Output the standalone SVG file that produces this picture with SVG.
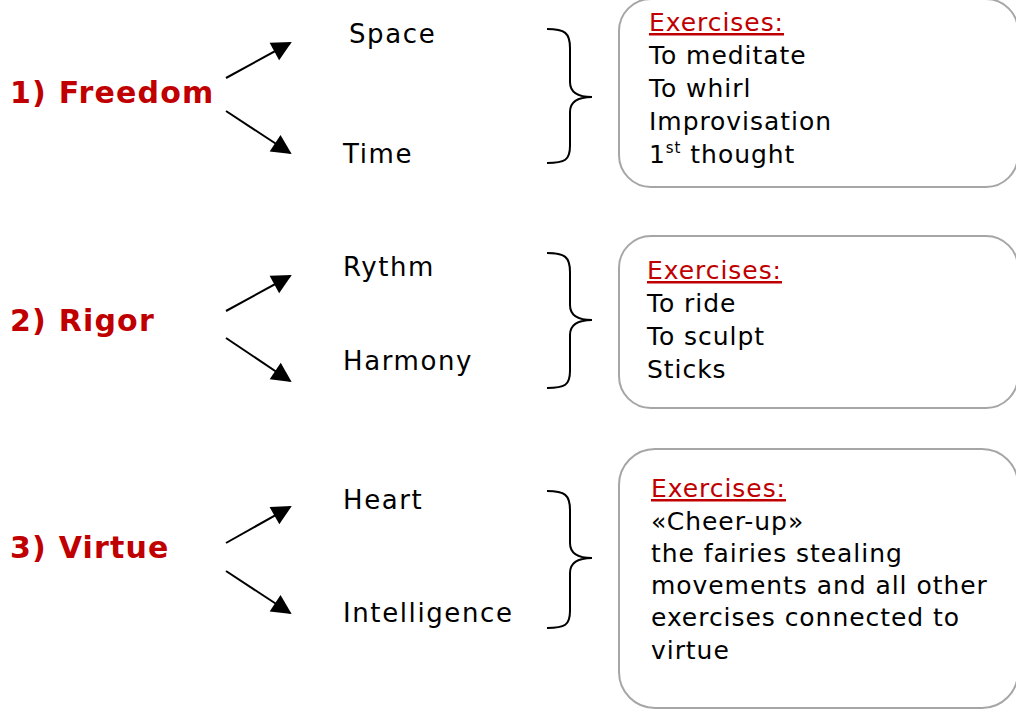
<svg xmlns="http://www.w3.org/2000/svg" width="1016" height="710" viewBox="0 0 1016 710">
<style>
.t{font-family:"DejaVu Sans",Verdana,sans-serif;font-size:30px;font-weight:bold;fill:#C00000;letter-spacing:1.2px}
.l{font-family:"DejaVu Sans",Verdana,sans-serif;font-size:26px;fill:#000;letter-spacing:1.6px}
.b{font-family:"DejaVu Sans",Verdana,sans-serif;font-size:25px;fill:#000;letter-spacing:0.95px}
.h{fill:#C00000;text-decoration:underline}
.box{fill:#fff;stroke:#A6A6A6;stroke-width:2}
.arr{stroke:#000;stroke-width:2;fill:none;marker-end:url(#ah)}
.br{stroke:#000;stroke-width:2;fill:none}
</style>
<defs>
<marker id="ah" viewBox="0 0 10 10" refX="9" refY="5" markerWidth="10" markerHeight="9" markerUnits="userSpaceOnUse" orient="auto" overflow="visible">
<path d="M0,0 L10,5 L0,10 z" fill="#000" transform="scale(2.2)" transform-origin="9 5"/>
</marker>
</defs>
<rect width="1016" height="710" fill="#fff"/>
<g id="connectors">
<line class="arr" x1="226" y1="78" x2="290" y2="43"/>
<line class="arr" x1="226" y1="111" x2="290" y2="153"/>
<line class="arr" x1="226" y1="311" x2="290" y2="276"/>
<line class="arr" x1="226" y1="338" x2="290" y2="381"/>
<line class="arr" x1="226" y1="543" x2="290" y2="507"/>
<line class="arr" x1="226" y1="571" x2="290" y2="613"/>
<path class="br" d="M547,29 C565,29 570,33 570,48 L570,82 C570,92 578,97 592,97 C578,97 570,102 570,112 L570,146 C570,160 565,163 547,163"/>
<path class="br" d="M547,253 C565,253 570,257 570,272 L570,305 C570,315 578,320 592,320 C578,320 570,325 570,335 L570,371 C570,385 565,388 547,388"/>
<path class="br" d="M547,491 C565,491 570,495 570,510 L570,543 C570,553 578,558 592,558 C578,558 570,563 570,573 L570,611 C570,625 565,628 547,628"/>
</g>
<g id="freedom"><text class="t" x="10" y="103">1) Freedom</text></g>
<g id="rigor"><text class="t" x="10" y="331">2) Rigor</text></g>
<g id="virtue"><text class="t" x="10" y="558">3) Virtue</text></g>
<g id="space"><text class="l" x="349" y="43">Space</text></g>
<g id="time"><text class="l" x="343" y="163">Time</text></g>
<g id="rythm"><text class="l" x="343" y="276">Rythm</text></g>
<g id="harmony"><text class="l" x="343" y="370">Harmony</text></g>
<g id="heart"><text class="l" x="343" y="509">Heart</text></g>
<g id="intelligence"><text class="l" x="343" y="622">Intelligence</text></g>
<g id="box1">
<rect class="box" x="619" y="-1" width="399" height="188" rx="32"/>
<text class="b" x="649" y="31"><tspan class="h">Exercises:</tspan><tspan x="649" dy="33">To meditate</tspan><tspan x="649" dy="33">To whirl</tspan><tspan x="649" dy="33">Improvisation</tspan><tspan x="649" dy="33">1</tspan><tspan dy="-10" font-size="15">st</tspan><tspan dy="10"> thought</tspan></text>
</g>
<g id="box2">
<rect class="box" x="619" y="236" width="399" height="172" rx="32"/>
<text class="b" x="647" y="279"><tspan class="h">Exercises:</tspan><tspan x="647" dy="33">To ride</tspan><tspan x="647" dy="33">To sculpt</tspan><tspan x="647" dy="33">Sticks</tspan></text>
</g>
<g id="box3">
<rect class="box" x="619" y="449" width="399" height="259" rx="36"/>
<text class="b" x="651" y="497"><tspan class="h">Exercises:</tspan><tspan x="651" dy="33">«Cheer-up»</tspan><tspan x="651" dy="32">the fairies stealing</tspan><tspan x="651" dy="32">movements and all other</tspan><tspan x="651" dy="32">exercises connected to</tspan><tspan x="651" dy="33">virtue</tspan></text>
</g>
</svg>
